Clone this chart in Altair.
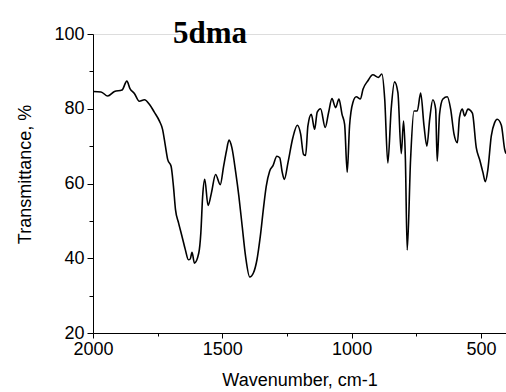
import altair as alt
import pandas as pd

# Wavenumber (cm-1) and transmittance (%)
wavenumber = [2000, 1969, 1943, 1917, 1888, 1869, 1857, 1840, 1821, 1801, 1782, 1763,
              1743, 1731, 1720, 1711, 1698, 1689, 1681, 1669, 1656, 1643, 1631, 1624,
              1617, 1608, 1591, 1583, 1576, 1568, 1555, 1542, 1526, 1508, 1495, 1484,
              1474, 1463, 1448, 1436, 1423, 1410, 1394, 1379, 1366, 1353, 1340, 1330,
              1317, 1304, 1289, 1278, 1268, 1260, 1246, 1227, 1210, 1197, 1186, 1178,
              1169, 1156, 1143, 1133, 1120, 1102, 1089, 1076, 1062, 1049, 1037, 1027,
              1017, 1008, 995, 982, 966, 956, 937, 918, 896, 883, 872, 860, 847, 834,
              821, 808, 799, 792, 785, 772, 759, 746, 733, 720, 709, 698, 686, 675,
              669, 660, 647, 630, 617, 604, 591, 583, 572, 563, 550, 533, 518, 505,
              492, 483, 473, 460, 447, 437, 421, 408, 403]
transmittance = [84.6, 84.5, 83.4, 84.6, 85.0, 87.4, 85.4, 84.1, 82.0, 82.4, 81.2, 79.1,
                 76.7, 74.5, 70.0, 66.4, 64.6, 59.3, 53.0, 49.4, 45.9, 42.3, 39.6, 39.8,
                 41.6, 38.7, 41.4, 46.8, 56.6, 61.1, 54.1, 57.5, 62.4, 59.7, 64.6, 68.7,
                 71.6, 69.6, 62.9, 56.6, 48.5, 40.5, 35.0, 36.2, 39.6, 45.9, 53.9, 59.3,
                 63.3, 64.8, 67.3, 66.9, 62.9, 61.1, 65.6, 72.3, 75.6, 73.2, 67.8, 67.5,
                 75.4, 78.5, 74.5, 79.1, 80.0, 75.0, 79.0, 82.7, 80.3, 82.6, 78.5, 75.8,
                 63.0, 75.4, 81.7, 83.2, 82.6, 85.2, 87.5, 89.1, 88.4, 89.3, 82.6, 65.5,
                 79.9, 87.2, 84.3, 68.0, 76.7, 66.4, 42.2, 66.4, 79.4, 79.4, 84.2, 75.4,
                 70.0, 77.2, 82.4, 79.9, 66.0, 78.5, 82.6, 83.2, 79.9, 73.2, 70.9, 77.6,
                 79.9, 78.1, 79.9, 78.8, 69.6, 66.4, 62.9, 60.5, 63.8, 72.7, 76.3, 77.2,
                 75.6, 69.1, 68.0]

major_x = [2000, 1500, 1000, 500]
minor_x = [1750, 1250, 750]
major_y = [20, 40, 60, 80, 100]
minor_y = [30, 50, 70, 90]
title_text = ["5dma"]

df = pd.DataFrame({"wn": wavenumber, "t": transmittance})

FONT = "Liberation Sans"

xscale = alt.Scale(domain=[403, 2000], reverse=True, nice=False, zero=False)
yscale = alt.Scale(domain=[20, 100], nice=False, zero=False)

line = alt.Chart(df).mark_line(color="black", strokeWidth=1.6, clip=True,
                               interpolate="monotone").encode(
    x=alt.X("wn:Q", scale=xscale,
            axis=alt.Axis(values=major_x, format="d", title="Wavenumber, cm-1",
                          orient="bottom",
                          tickSize=5, labelPadding=2, labelFontSize=18, labelFont=FONT,
                          labelColor="black", titleFont=FONT, titleFontSize=18,
                          titleFontWeight="normal", titleColor="black",
                          titleBaseline="alphabetic", titleY=52, titleAlign="center",
                          domainColor="black", tickColor="black", grid=False,
                          labelFlush=False, labelOverlap=False)),
    y=alt.Y("t:Q", scale=yscale,
            axis=alt.Axis(values=major_y, format="d", title="Transmittance, %",
                          orient="left",
                          tickSize=6, labelPadding=3, labelFontSize=18, labelFont=FONT,
                          labelColor="black", titleFont=FONT, titleFontSize=18,
                          titleFontWeight="normal", titleColor="black",
                          titleX=-68, titleY=140, titleAngle=-90, titleAlign="center",
                          titleBaseline="middle",
                          domainColor="black", tickColor="black", grid=False,
                          labelFlush=False, labelOverlap=False)),
)

minor = alt.Chart(df).mark_line(opacity=0).encode(
    x=alt.X("wn:Q", scale=xscale,
            axis=alt.Axis(values=minor_x, title=None, labels=False, domain=False,
                          orient="bottom", tickSize=3, tickColor="black", grid=False)),
    y=alt.Y("t:Q", scale=yscale,
            axis=alt.Axis(values=minor_y, title=None, labels=False, domain=False,
                          orient="left", tickSize=4, tickColor="black", grid=False)),
)

title = alt.Chart(pd.DataFrame({"label": title_text})).mark_text(
    font="Liberation Serif", fontSize=31, fontWeight="bold", color="black",
    align="center", baseline="alphabetic"
).encode(text="label:N", x=alt.value(117), y=alt.value(9))

chart = alt.layer(line, minor, title).resolve_axis(
    x="independent", y="independent"
).properties(
    width=413, height=299,
    autosize=alt.AutoSizeParams(type="none"),
    padding={"left": 93, "top": 34, "right": 0, "bottom": 59},
).configure_view(stroke=None).configure(background="white")

chart.save("out.html", embed_options={"renderer": "svg", "actions": False})
